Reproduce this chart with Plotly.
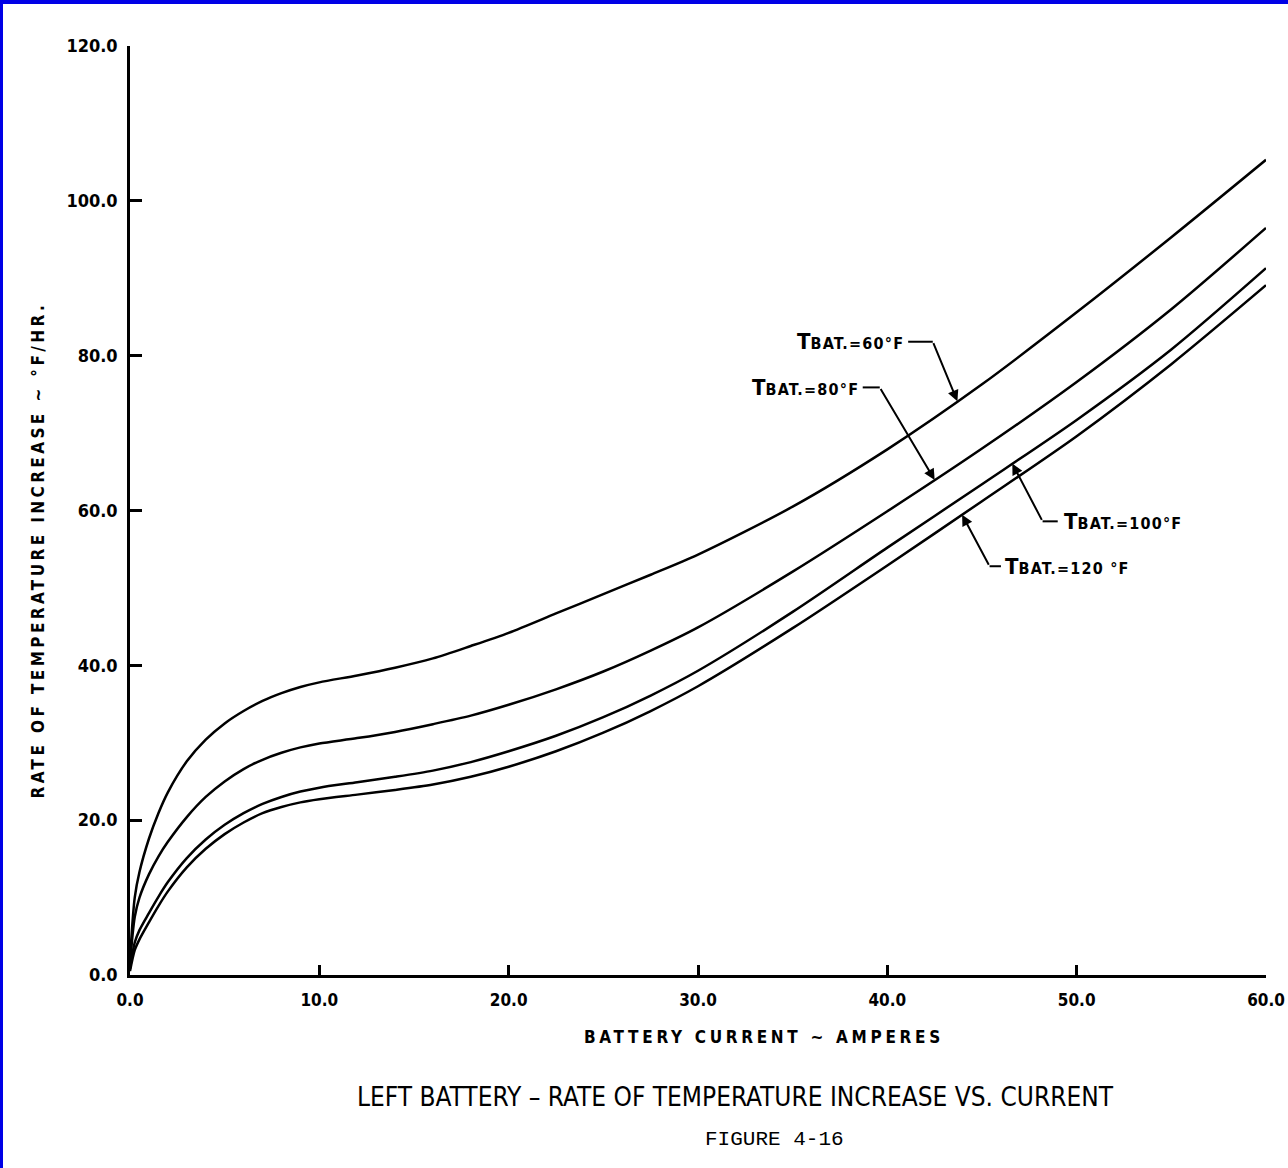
import numpy as np
import plotly.graph_objects as go

# ---- data ----
current = [0, 0.25, 0.5, 1, 1.5, 2, 3, 4, 5, 6, 7, 8, 9, 10, 12, 14, 16, 18, 20,
           22.5, 25, 27.5, 30, 35, 40, 45, 50, 55, 60]
rate_60F = [2, 10.0, 13.3, 17.6, 20.9, 23.6, 27.6, 30.4, 32.5, 34.1, 35.4, 36.4, 37.2, 37.8,
            38.7, 39.7, 40.9, 42.5, 44.2, 46.7, 49.2, 51.7, 54.3, 60.5, 67.9, 76.3, 85.6, 95.3, 105.3]
rate_80F = [1.5, 7.5, 10.0, 13.0, 15.3, 17.2, 20.4, 23.0, 25.0, 26.6, 27.8, 28.7, 29.4, 29.9,
            30.6, 31.4, 32.4, 33.5, 34.9, 36.9, 39.2, 41.9, 44.9, 52.1, 59.9, 68.0, 76.6, 86.0, 96.5]
rate_100F = [0.8, 4.2, 5.8, 8.0, 10.1, 12.0, 15.1, 17.5, 19.4, 20.9, 22.1, 23.0, 23.7, 24.2,
             24.9, 25.6, 26.4, 27.5, 28.9, 30.9, 33.3, 36.1, 39.3, 46.9, 55.2, 63.4, 71.7, 80.8, 91.3]
rate_120F = [0.5, 3.2, 4.6, 6.8, 8.9, 10.8, 13.9, 16.3, 18.2, 19.7, 20.9, 21.7, 22.3, 22.7,
             23.3, 23.9, 24.6, 25.6, 26.9, 28.9, 31.3, 34.1, 37.3, 44.8, 52.9, 61.2, 69.6, 78.9, 89.1]

series_names = ["TBAT.=60°F", "TBAT.=80°F", "TBAT.=100°F", "TBAT.=120 °F"]
x_ticks = [0, 10, 20, 30, 40, 50, 60]
y_ticks = [0, 20, 40, 60, 80, 100, 120]

series = [rate_60F, rate_80F, rate_100F, rate_120F]

COND = "DejaVu Sans Condensed, DejaVu Sans, sans-serif"

fig = go.Figure()
for name, vals in zip(series_names, series):
    fig.add_trace(go.Scatter(
        x=current, y=vals, mode="lines", name=name,
        line=dict(color="black", width=2.5, shape="spline", smoothing=0.8),
        showlegend=False, hoverinfo="skip"))

fig.update_xaxes(range=[0, 60], tickvals=x_ticks, tickformat=".1f",
                 showline=True, linecolor="black", linewidth=2.5,
                 ticks="inside", ticklen=10, tickwidth=2.5, tickcolor="black",
                 showgrid=False, zeroline=False,
                 tickfont=dict(family=COND, size=17, color="black", weight="bold"),
                 ticklabelstandoff=8, automargin=False)
fig.update_yaxes(range=[0, 120], tickvals=y_ticks, tickformat=".1f",
                 showline=True, linecolor="black", linewidth=2.5,
                 ticks="inside", ticklen=12, tickwidth=2.5, tickcolor="black",
                 showgrid=False, zeroline=False,
                 tickfont=dict(family=COND, size=18, color="black", weight="bold"),
                 ticklabelstandoff=6, automargin=False)

label_font = dict(family=COND, size=16, color="black", weight="bold")

def lbl(t):
    return ("<span style='font-size:22px'>T</span>"
            "<span style='letter-spacing:1.2px'>" + t[1:] + "</span>")

# callouts: (series index, arrow tip x, elbow x, elbow y, line end x, text x, text anchor)
callouts = [
    (0, 43.7, 42.4, 81.8, 41.1, 41.0, "right"),
    (1, 42.5, 39.6, 75.9, 38.7, 38.6, "right"),
    (2, 46.6, 48.2, 58.6, 49.0, 49.2, "left"),
    (3, 43.95, 45.4, 52.8, 46.0, 46.1, "left"),
]
annotations = []
shapes = []
for idx, tipx, ex, ey, lx, tx, anc in callouts:
    tipy = float(np.interp(tipx, current, series[idx]))
    annotations.append(dict(x=tipx, y=tipy, ax=ex, ay=ey, xref="x", yref="y",
                            axref="x", ayref="y", text="", showarrow=True,
                            arrowhead=2, arrowsize=1.1, arrowwidth=2, arrowcolor="black",
                            standoff=0))
    shapes.append(dict(type="line", xref="x", yref="y", x0=lx, y0=ey, x1=ex, y1=ey,
                       line=dict(color="black", width=2)))
    annotations.append(dict(x=tx, y=ey, xref="x", yref="y", text=lbl(series_names[idx]),
                            showarrow=False, xanchor=anc, yanchor="middle", font=label_font))

# axis titles and captions
annotations.append(dict(x=0.558, y=-0.067, xref="paper", yref="paper",
                        text="<span style='letter-spacing:3.7px'>BATTERY CURRENT ~ AMPERES</span>",
                        showarrow=False, xanchor="center", yanchor="middle",
                        font=dict(family=COND, size=17, color="black", weight="bold")))
annotations.append(dict(x=-0.081, y=0.458, xref="paper", yref="paper",
                        text="<span style='letter-spacing:3.4px'>RATE OF TEMPERATURE INCREASE ~ °F/HR.</span>",
                        showarrow=False, textangle=-90, xanchor="center", yanchor="middle",
                        font=dict(family=COND, size=17, color="black", weight="bold")))
annotations.append(dict(x=0.5326, y=-0.131, xref="paper", yref="paper",
                        text="LEFT BATTERY – RATE OF TEMPERATURE INCREASE VS. CURRENT",
                        showarrow=False, xanchor="center", yanchor="middle",
                        font=dict(family=COND, size=26, color="black")))
annotations.append(dict(x=0.567, y=-0.177, xref="paper", yref="paper",
                        text="FIGURE 4-16",
                        showarrow=False, xanchor="center", yanchor="middle",
                        font=dict(family="Liberation Mono, DejaVu Sans Mono, monospace", size=21, color="black")))

# blue frame along the left and top edges of the page
W, H = 1136.0, 929.0
shapes.append(dict(type="rect", xref="paper", yref="paper", x0=-130 / W, x1=-127 / W,
                   y0=-193 / H, y1=(975) / H, fillcolor="#0000e6", line=dict(width=0), layer="above"))
shapes.append(dict(type="rect", xref="paper", yref="paper", x0=-130 / W, x1=1158 / W,
                   y0=(975 - 4) / H, y1=975 / H, fillcolor="#0000e6", line=dict(width=0), layer="above"))

fig.update_layout(width=1288, height=1168, autosize=False,
                  margin=dict(l=130, r=22, t=46, b=193, autoexpand=False),
                  plot_bgcolor="white", paper_bgcolor="white",
                  annotations=annotations, shapes=shapes)

fig.write_html("out.html")
